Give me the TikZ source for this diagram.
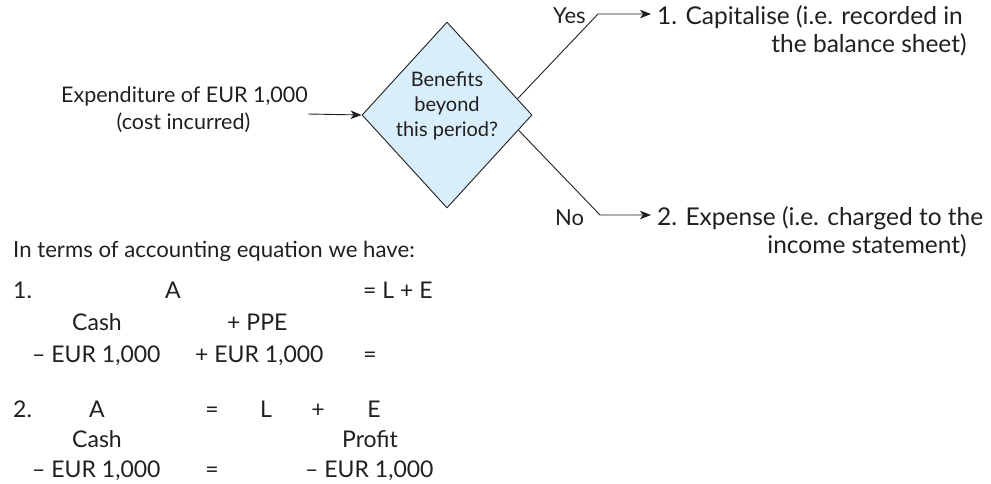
\documentclass[tikz,border=0pt]{standalone}
\usepackage{fontspec}
\setmainfont{Lato}
\usetikzlibrary{arrows.meta,shapes.geometric}
\definecolor{ink}{HTML}{231F20}
\definecolor{decisionfill}{HTML}{D8EEFA}
\tikzset{
  eqtxt/.style={inner sep=0pt, text=ink, font=\fontsize{23}{27}\selectfont},
  introtxt/.style={inner sep=0pt, text=ink, font=\fontsize{22.2}{27}\selectfont},
  outtxt/.style={inner sep=0pt, text=ink, font=\fontsize{24.5}{28}\selectfont},
  branchtxt/.style={inner sep=0pt, text=ink, font=\fontsize{22}{26}\selectfont},
  srctxt/.style={inner sep=0pt, text=ink, font=\fontsize{21.5}{26}\selectfont},
  qtxt/.style={inner sep=0pt, text=ink, align=center, font=\fontsize{20}{25}\selectfont},
  decision/.style={diamond, draw=ink, fill=decisionfill, line width=0.9pt,
    minimum width=170pt, minimum height=186pt, inner sep=0pt},
  conn/.style={draw=ink, line width=0.9pt},
  arr/.style={conn, -{Stealth[length=11pt,width=8.5pt,inset=3pt]}}
}
\begin{document}
\begin{tikzpicture}[x=1pt,y=-1pt]
\useasboundingbox (0,0) rectangle (991,483);

% decision node
\node[decision] (dia) at (447,115) {};
\node[qtxt] (q) at (447,106) {Benefits\\beyond\\this period?};

% expenditure
\node[srctxt, anchor=base] (exp1) at (184.5,102) {Expenditure of EUR 1,000};
\node[srctxt, anchor=base] (exp2) at (183.5,129) {(cost incurred)};
\coordinate (src) at (308,114);
\draw[arr] (src) -- (dia.west);

% outcomes
\node[branchtxt, anchor=base west] (yes) at (553,23) {Yes};
\node[branchtxt, anchor=base west] (no) at (555,225) {No};
\node[outtxt, anchor=base west] (capA) at (657,24) {1. Capitalise (i.e. recorded in};
\node[outtxt, anchor=base] (capB) at (869,52) {the balance sheet)};
\node[outtxt, anchor=base west] (expA) at (657,225) {2. Expense (i.e. charged to the};
\node[outtxt, anchor=base] (expB) at (867,253) {income statement)};

\coordinate (ybend) at (598,14);
\coordinate (nbend) at (600,215);
\draw[arr] (dia.13) -- (ybend) -- ([xshift=-6pt]ybend -| capA.west);
\draw[arr] (dia.-12) -- (nbend) -- ([xshift=-6pt]nbend -| expA.west);

% accounting equation
\node[introtxt, anchor=base west] (intro) at (13,257) {In terms of accounting equation we have:};

\node[eqtxt, anchor=base west] (n1) at (13,298) {1.};
\node[eqtxt, anchor=base] (a1) at (173,298) {A};
\node[eqtxt, anchor=base west] (le1) at (363,298) {= L + E};
\node[eqtxt, anchor=base] (cash1) at (97,330) {Cash};
\node[eqtxt, anchor=base west] (ppe1) at (227,330) {+ PPE};
\node[eqtxt, anchor=base west] (m1) at (32,362) {– EUR 1,000};
\node[eqtxt, anchor=base west] (p1) at (195,362) {+ EUR 1,000};
\node[eqtxt, anchor=base] (eq1) at (370,362) {=};

\node[eqtxt, anchor=base west] (n2) at (13,417) {2.};
\node[eqtxt, anchor=base] (a2) at (97,417) {A};
\node[eqtxt, anchor=base] (eq2) at (212,417) {=};
\node[eqtxt, anchor=base] (l2) at (266,417) {L};
\node[eqtxt, anchor=base] (plus2) at (318,417) {+};
\node[eqtxt, anchor=base] (e2) at (374,417) {E};
\node[eqtxt, anchor=base] (cash2) at (97,447) {Cash};
\node[eqtxt, anchor=base] (profit2) at (370,447) {Profit};
\node[eqtxt, anchor=base west] (m2) at (32,477) {– EUR 1,000};
\node[eqtxt, anchor=base] (eq3) at (212,477) {=};
\node[eqtxt, anchor=base west] (m3) at (305,477) {– EUR 1,000};
\end{tikzpicture}
\end{document}
